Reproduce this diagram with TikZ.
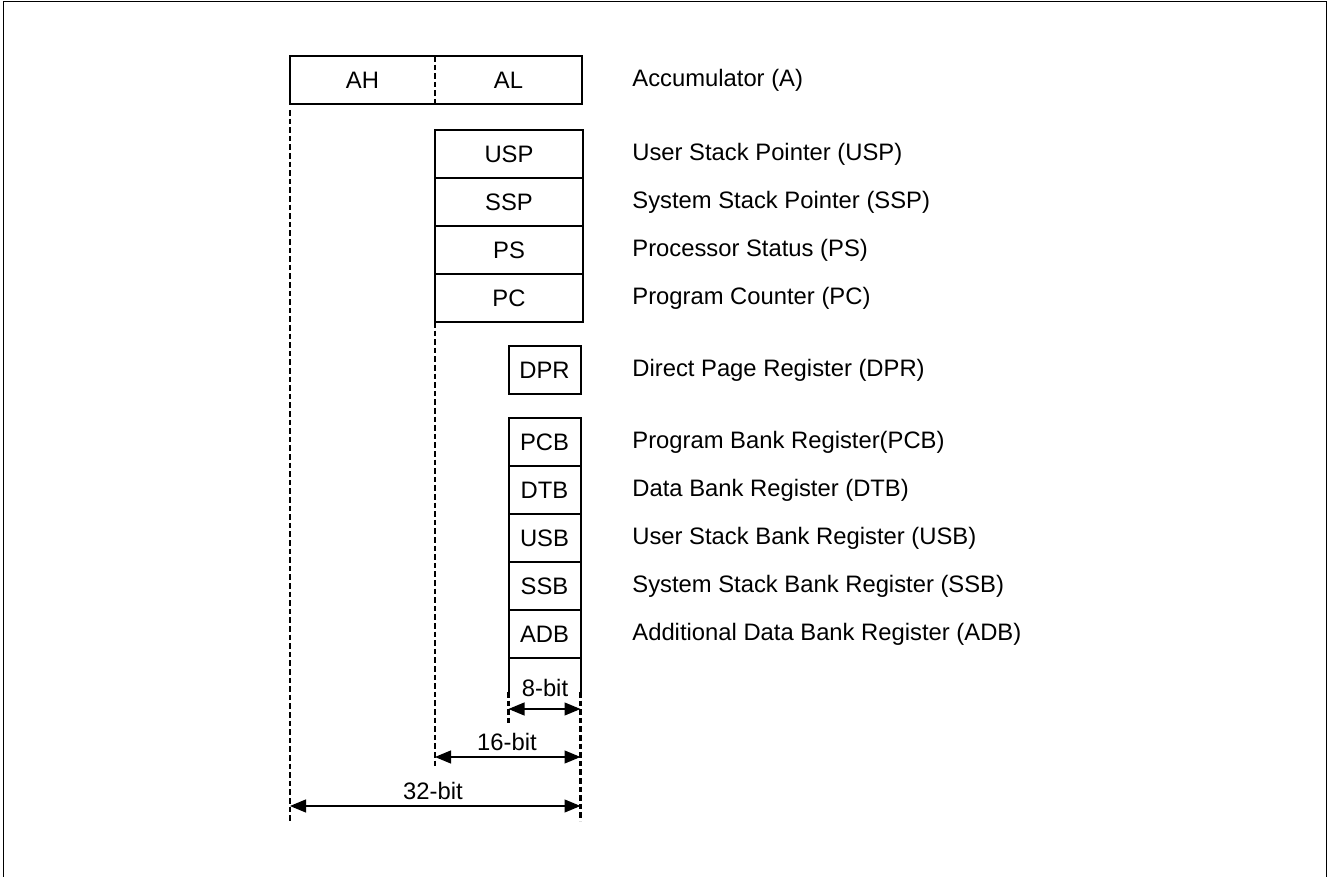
\documentclass[tikz,border=0pt]{standalone}
\usepackage{fontspec}
\setmainfont{Liberation Sans}
\usetikzlibrary{positioning,arrows.meta}

\begin{document}
\begin{tikzpicture}[x=0.5pt,y=-0.5pt,font=\fontsize{11.9pt}{14pt}\selectfont]
\tikzstyle{cell} = [inner sep=0pt, outer sep=0pt, minimum height=24pt]
\tikzstyle{reg} = [cell, draw=black, line width=1pt]
\tikzstyle{wide} = [reg, minimum width=74pt]
\tikzstyle{narrow} = [reg, minimum width=36pt]
\tikzstyle{desc} = [anchor=west, inner sep=0pt]
\tikzstyle{guide} = [line width=1.2pt, dash pattern=on 2.8pt off 1.5pt]
\tikzstyle{span} = [{Triangle[length=8pt,width=6.5pt]}-{Triangle[length=8pt,width=6.5pt]}, line width=0.6pt]

\useasboundingbox (0,0) rectangle (1329,877);
\draw [line width=0.9pt] (3.5,877) -- (3.5,1.5) -- (1326.5,1.5) -- (1326.5,877);

% accumulator
\node (AH) [cell, minimum width=72.5pt] at (362.5,80) {AH};
\node (AL) [cell, minimum width=73.5pt, right=0pt of AH] {AL};
\draw [line width=1pt] (AH.north west) rectangle (AL.south east);
\draw [guide] (AL.north west) -- (AL.south west);

% 16-bit registers
\node (USP) [wide] at (509,154) {USP};
\node (SSP) [wide, below=0pt of USP] {SSP};
\node (PS) [wide, below=0pt of SSP] {PS};
\node (PC) [wide, below=0pt of PS] {PC};

% 8-bit registers
\node (DPR) [narrow] at (544.5,370) {DPR};
\node (PCB) [narrow] at (544.5,442) {PCB};
\node (DTB) [narrow, below=0pt of PCB] {DTB};
\node (USB) [narrow, below=0pt of DTB] {USB};
\node (SSB) [narrow, below=0pt of USB] {SSB};
\node (ADB) [narrow, below=0pt of SSB] {ADB};

% descriptions
\node (AccText) [desc, right=25pt of AL] {Accumulator (A)};
\node (USPText) [desc, right=24.5pt of USP] {User Stack Pointer (USP)};
\node (SSPText) [desc, right=24.5pt of SSP] {System Stack Pointer (SSP)};
\node (PSText) [desc, right=24.5pt of PS] {Processor Status (PS)};
\node (PCText) [desc, right=24.5pt of PC] {Program Counter (PC)};
\node (DPRText) [desc, right=25.75pt of DPR] {Direct Page Register (DPR)};
\node (PCBText) [desc, right=25.75pt of PCB] {Program Bank Register(PCB)};
\node (DTBText) [desc, right=25.75pt of DTB] {Data Bank Register (DTB)};
\node (USBText) [desc, right=25.75pt of USB] {User Stack Bank Register (USB)};
\node (SSBText) [desc, right=25.75pt of SSB] {System Stack Bank Register (SSB)};
\node (ADBText) [desc, right=25.75pt of ADB] {Additional Data Bank Register (ADB)};

% width guides
\coordinate (LeftTop) at (290,110);
\coordinate (LeftEnd) at (290,821);
\coordinate (MidEnd) at (435,767);
\coordinate (NarrowL) at (508.5,692);
\coordinate (NarrowR) at (580.5,692);
\coordinate (NarrowLEnd) at (508.5,725);
\coordinate (RightEnd) at (580.5,821);

\draw [line width=1pt] (ADB.south west) -- (NarrowL);
\draw [line width=1pt] (ADB.south east) -- (NarrowR);
\draw [guide] (LeftTop) -- (LeftEnd);
\draw [guide] (PC.south west) -- (MidEnd);
\draw [guide] (NarrowL) -- (NarrowLEnd);
\draw [guide] (NarrowR) -- (RightEnd);

% spans
\coordinate (S8l) at (508.5,709);
\coordinate (S8r) at (580.5,709);
\coordinate (S16l) at (435,757);
\coordinate (S16r) at (580.5,757);
\coordinate (S32l) at (290,806);
\coordinate (S32r) at (580.5,806);

\draw [span] (S8l) -- (S8r);
\draw [span] (S16l) -- (S16r);
\draw [span] (S32l) -- (S32r);

\node (Bit8) at (545,688) {8-bit};
\node (Bit16) at (507,742) {16-bit};
\node (Bit32) at (433,791) {32-bit};

\end{tikzpicture}
\end{document}
